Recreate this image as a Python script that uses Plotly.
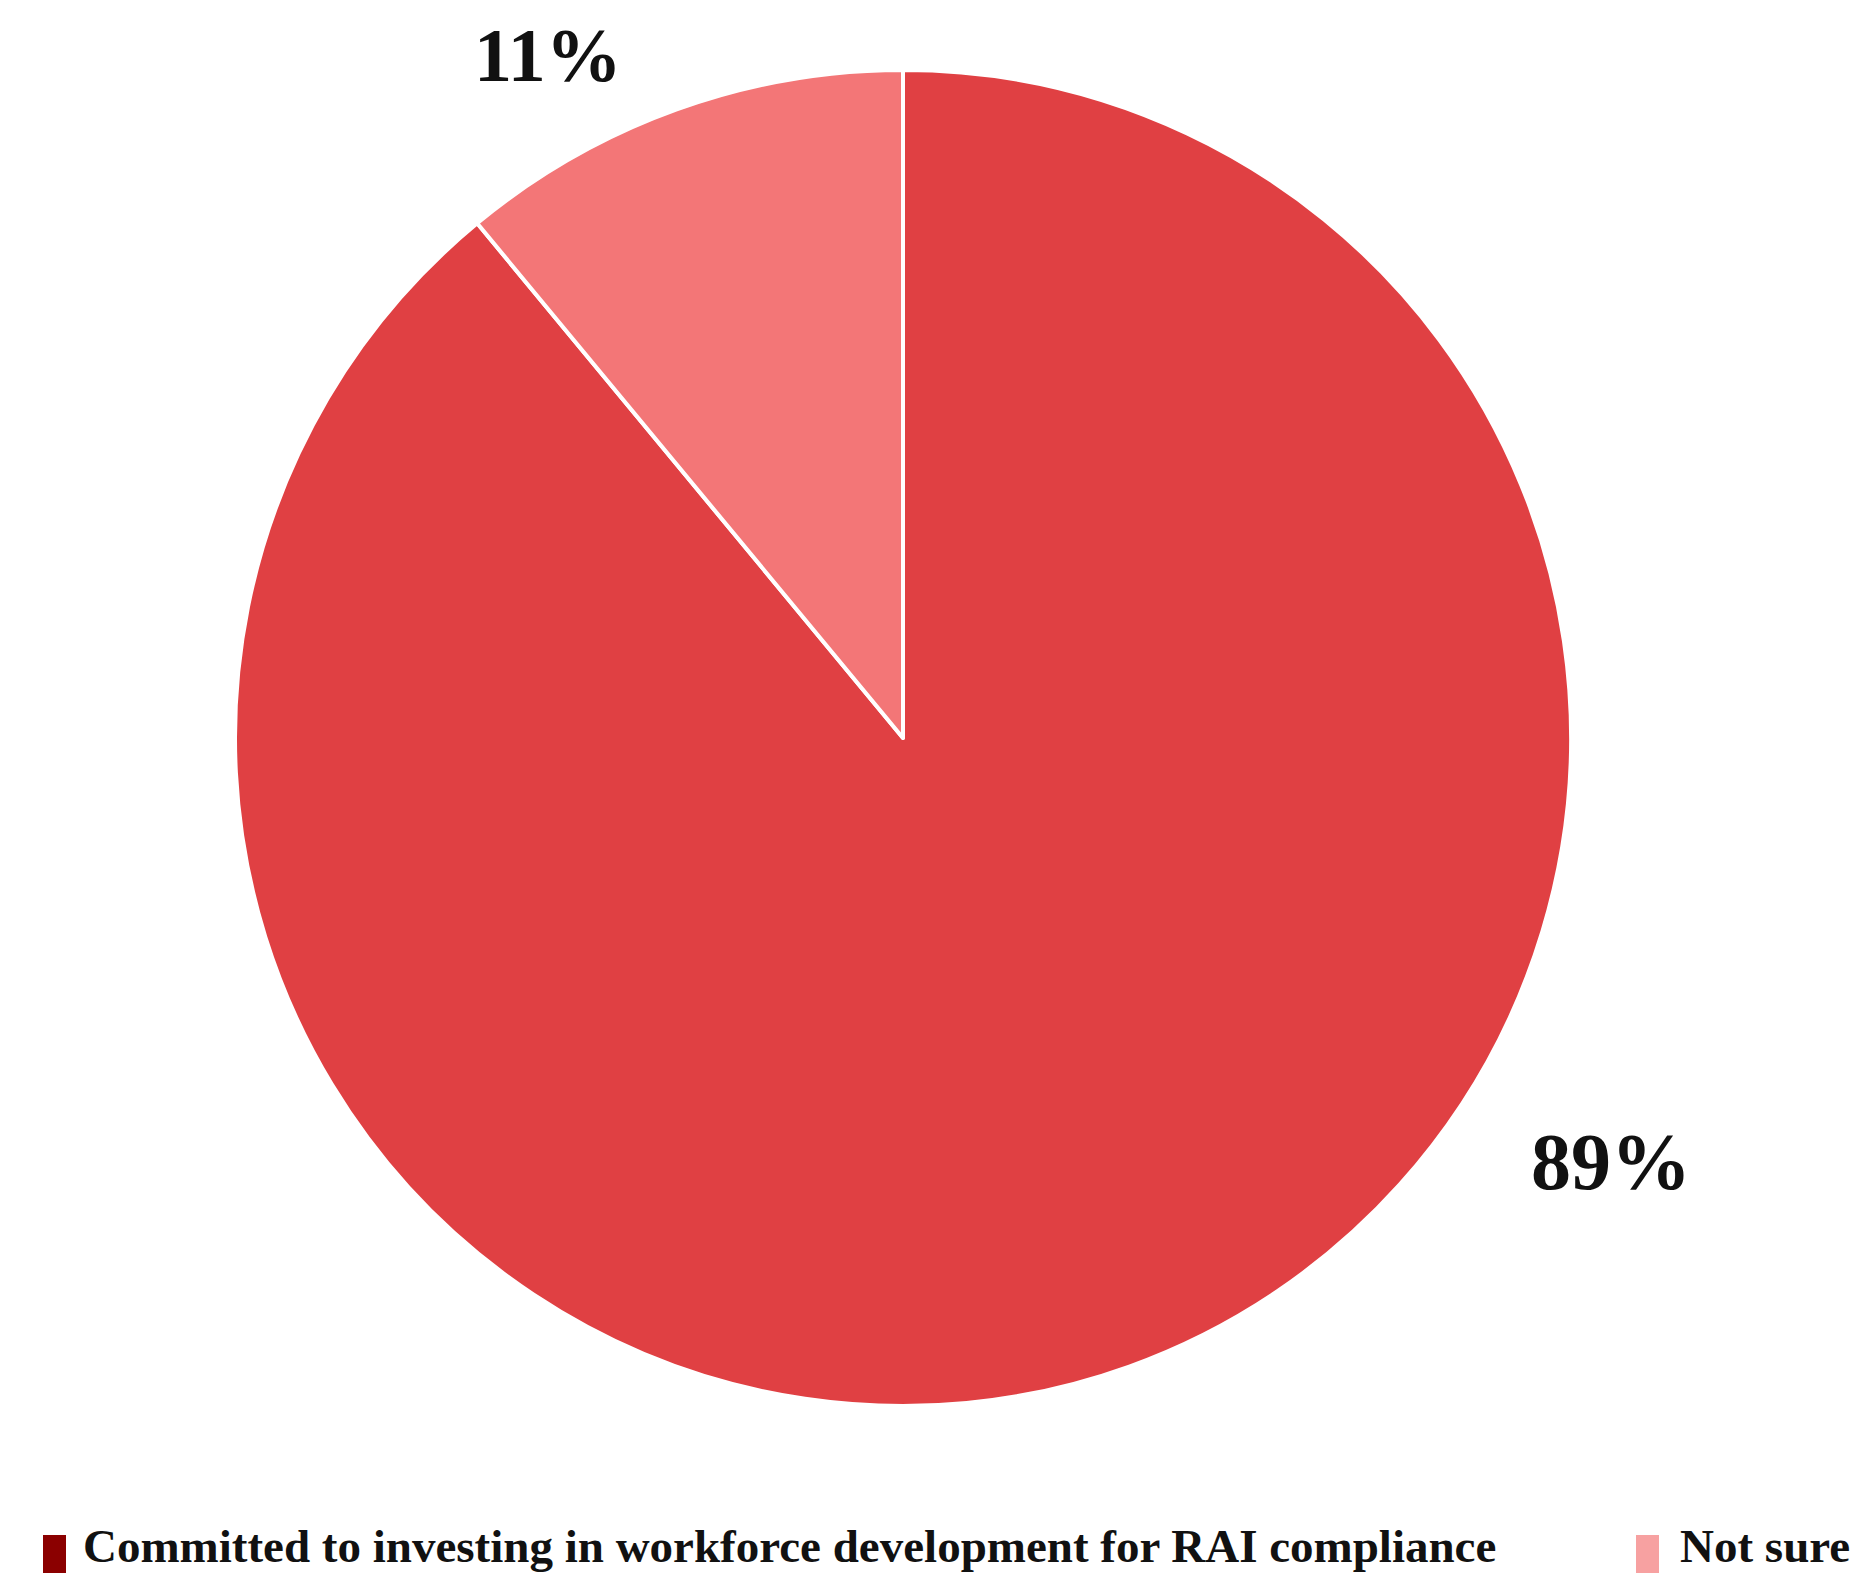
import plotly.graph_objects as go

labels = ["Committed to investing in workforce development for RAI compliance", "Not sure"]
values = [89, 11]
slice_colors = ["#E04043", "#F37677"]
legend_colors = ["#8B0000", "#F7A1A1"]

W, H = 1856, 1577
FONT = "Liberation Serif"

# pie geometry (pixels from top-left)
cx, cy, r = 903, 738, 668

fig = go.Figure()
fig.add_trace(go.Pie(
    labels=labels, values=values, sort=False, direction="clockwise", rotation=0,
    marker=dict(colors=slice_colors, line=dict(color="white", width=4)),
    textinfo="none", hoverinfo="label+percent", showlegend=False,
    domain=dict(x=[(cx - r) / W, (cx + r) / W], y=[1 - (cy + r) / H, 1 - (cy - r) / H]),
))

# percentage labels
label_pos = [(1611, 1162), (548, 55)]
label_sizes = [80, 76]
annotations = []
for v, (px, py), fs in zip(values, label_pos, label_sizes):
    annotations.append(dict(
        text=f"<b>{v}%</b>", x=px / W, y=1 - py / H, xref="paper", yref="paper",
        xanchor="center", yanchor="middle", showarrow=False,
        font=dict(family=FONT, size=fs, color="#111111"),
    ))

# manual legend
legend_items = [(43, 81), (1636, 1678)]
shapes = []
for (mx, tx), lab, col in zip(legend_items, labels, legend_colors):
    shapes.append(dict(type="rect", xref="paper", yref="paper",
                       x0=mx / W, x1=(mx + 23) / W, y0=1 - 1573 / H, y1=1 - 1535 / H,
                       fillcolor=col, line=dict(width=0)))
    annotations.append(dict(
        text=f"<b>{lab}</b>", x=tx / W, y=1 - 1546 / H, xref="paper", yref="paper",
        xanchor="left", yanchor="middle", showarrow=False,
        font=dict(family=FONT, size=47, color="#111111"),
    ))

fig.update_layout(
    width=W, height=H, margin=dict(l=0, r=0, t=0, b=0),
    paper_bgcolor="white", plot_bgcolor="white",
    annotations=annotations, shapes=shapes,
)
fig.write_html("out.html", config={"displayModeBar": False},
               post_script="document.body.style.margin='0';document.body.style.overflow='hidden';")
